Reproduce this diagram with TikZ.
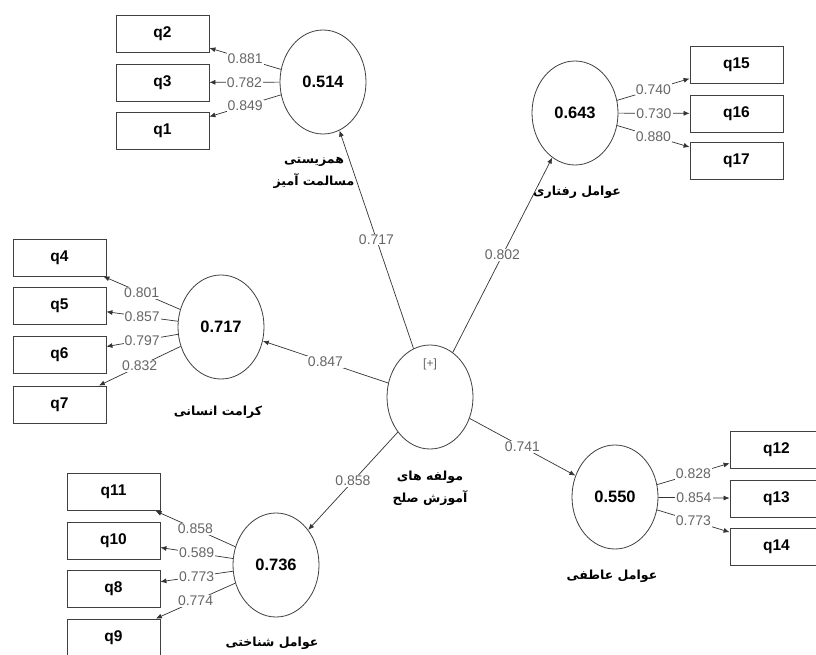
\documentclass[tikz,border=0pt]{standalone}
\usepackage{fontspec}
\setmainfont{Liberation Sans}
\newfontfamily\fa[Script=Arabic]{DejaVu Sans}
\TeXXeTstate=1
\usetikzlibrary{shapes.geometric,arrows.meta}
\begin{document}
\begin{tikzpicture}[x=1pt,y=-1pt,
  lv/.style={ellipse, draw=black!75, line width=0.8pt, minimum width=86pt, minimum height=104pt, inner sep=0pt, font=\bfseries\fontsize{16.5}{19}\selectfont},
  ind/.style={rectangle, draw=black!75, line width=0.8pt, minimum width=93pt, minimum height=37pt, inner sep=0pt, font=\bfseries\fontsize{15.5}{18}\selectfont},
  ld/.style={fill=white, inner sep=1pt, text=black!60, font=\fontsize{14}{16}\selectfont},
  arr/.style={draw=black!80, line width=0.7pt, -{Latex[length=6pt,width=5pt]}},
  fl/.style={font=\fa\bfseries\fontsize{12.5}{22}\selectfont, align=center, inner sep=0pt}
]
\clip (0,0) rectangle (816,655);
\fill[white] (0,0) rectangle (816,655);

% latent variables
\node[lv] (c514) at (323,82) {0.514};
\node[lv] (c643) at (575,113) {0.643};
\node[lv] (c717) at (221,327) {0.717};
\node[lv] (cen) at (430,397) {};
\node[lv] (c550) at (615,497) {0.550};
\node[lv] (c736) at (276,565) {0.736};
\node[text=black!60, font=\fontsize{12}{14}\selectfont] (plus) at (430,364) {[+]};

% indicators
\node[ind] (q2) at (162.5,34) {q2};
\node[ind] (q3) at (162.5,82.5) {q3};
\node[ind] (q1) at (162.5,131) {q1};
\node[ind] (q15) at (736.5,64.5) {q15};
\node[ind] (q16) at (736.5,113.5) {q16};
\node[ind] (q17) at (736.5,161) {q17};
\node[ind] (q4) at (59.5,257.5) {q4};
\node[ind] (q5) at (59.5,305.5) {q5};
\node[ind] (q6) at (59.5,354.5) {q6};
\node[ind] (q7) at (59.5,404.5) {q7};
\node[ind] (q12) at (776.5,449.5) {q12};
\node[ind] (q13) at (776.5,498.5) {q13};
\node[ind] (q14) at (776.5,546.5) {q14};
\node[ind] (q11) at (113.5,492) {q11};
\node[ind] (q10) at (113.5,540.5) {q10};
\node[ind] (q8) at (113.5,588.5) {q8};
\node[ind] (q9) at (113.5,637.5) {q9};

% Persian labels
\node[fl] (l514) at (314,173) {\beginR همزیستی\endR\\\beginR مسالمت آمیز\endR};
\node[fl] (l643) at (577,192) {\beginR عوامل رفتاری\endR};
\node[fl] (l717) at (218,412) {\beginR کرامت انسانی\endR};
\node[fl] (lcen) at (430,488) {\beginR مولفه های\endR\\\beginR آموزش صلح\endR};
\node[fl] (l550) at (612,576) {\beginR عوامل عاطفی\endR};
\node[fl] (l736) at (272,643) {\beginR عوامل شناختی\endR};

% structural paths
\draw[arr] (cen) -- node[ld]{0.717} (c514);
\draw[arr] (cen) -- node[ld]{0.802} (c643);
\draw[arr] (cen) -- node[ld]{0.847} (c717);
\draw[arr] (cen) -- node[ld]{0.741} (c550);
\draw[arr] (cen) -- node[ld]{0.858} (c736);

% loadings
\draw[arr] (c514) -- node[ld]{0.881} (q2);
\draw[arr] (c514) -- node[ld]{0.782} (q3);
\draw[arr] (c514) -- node[ld]{0.849} (q1);
\draw[arr] (c643) -- node[ld]{0.740} (q15);
\draw[arr] (c643) -- node[ld]{0.730} (q16);
\draw[arr] (c643) -- node[ld]{0.880} (q17);
\draw[arr] (c717) -- node[ld]{0.801} (q4);
\draw[arr] (c717) -- node[ld]{0.857} (q5);
\draw[arr] (c717) -- node[ld]{0.797} (q6);
\draw[arr] (c717) -- node[ld]{0.832} (q7);
\draw[arr] (c550) -- node[ld]{0.828} (q12);
\draw[arr] (c550) -- node[ld]{0.854} (q13);
\draw[arr] (c550) -- node[ld]{0.773} (q14);
\draw[arr] (c736) -- node[ld]{0.858} (q11);
\draw[arr] (c736) -- node[ld]{0.589} (q10);
\draw[arr] (c736) -- node[ld]{0.773} (q8);
\draw[arr] (c736) -- node[ld]{0.774} (q9);
\end{tikzpicture}
\end{document}
